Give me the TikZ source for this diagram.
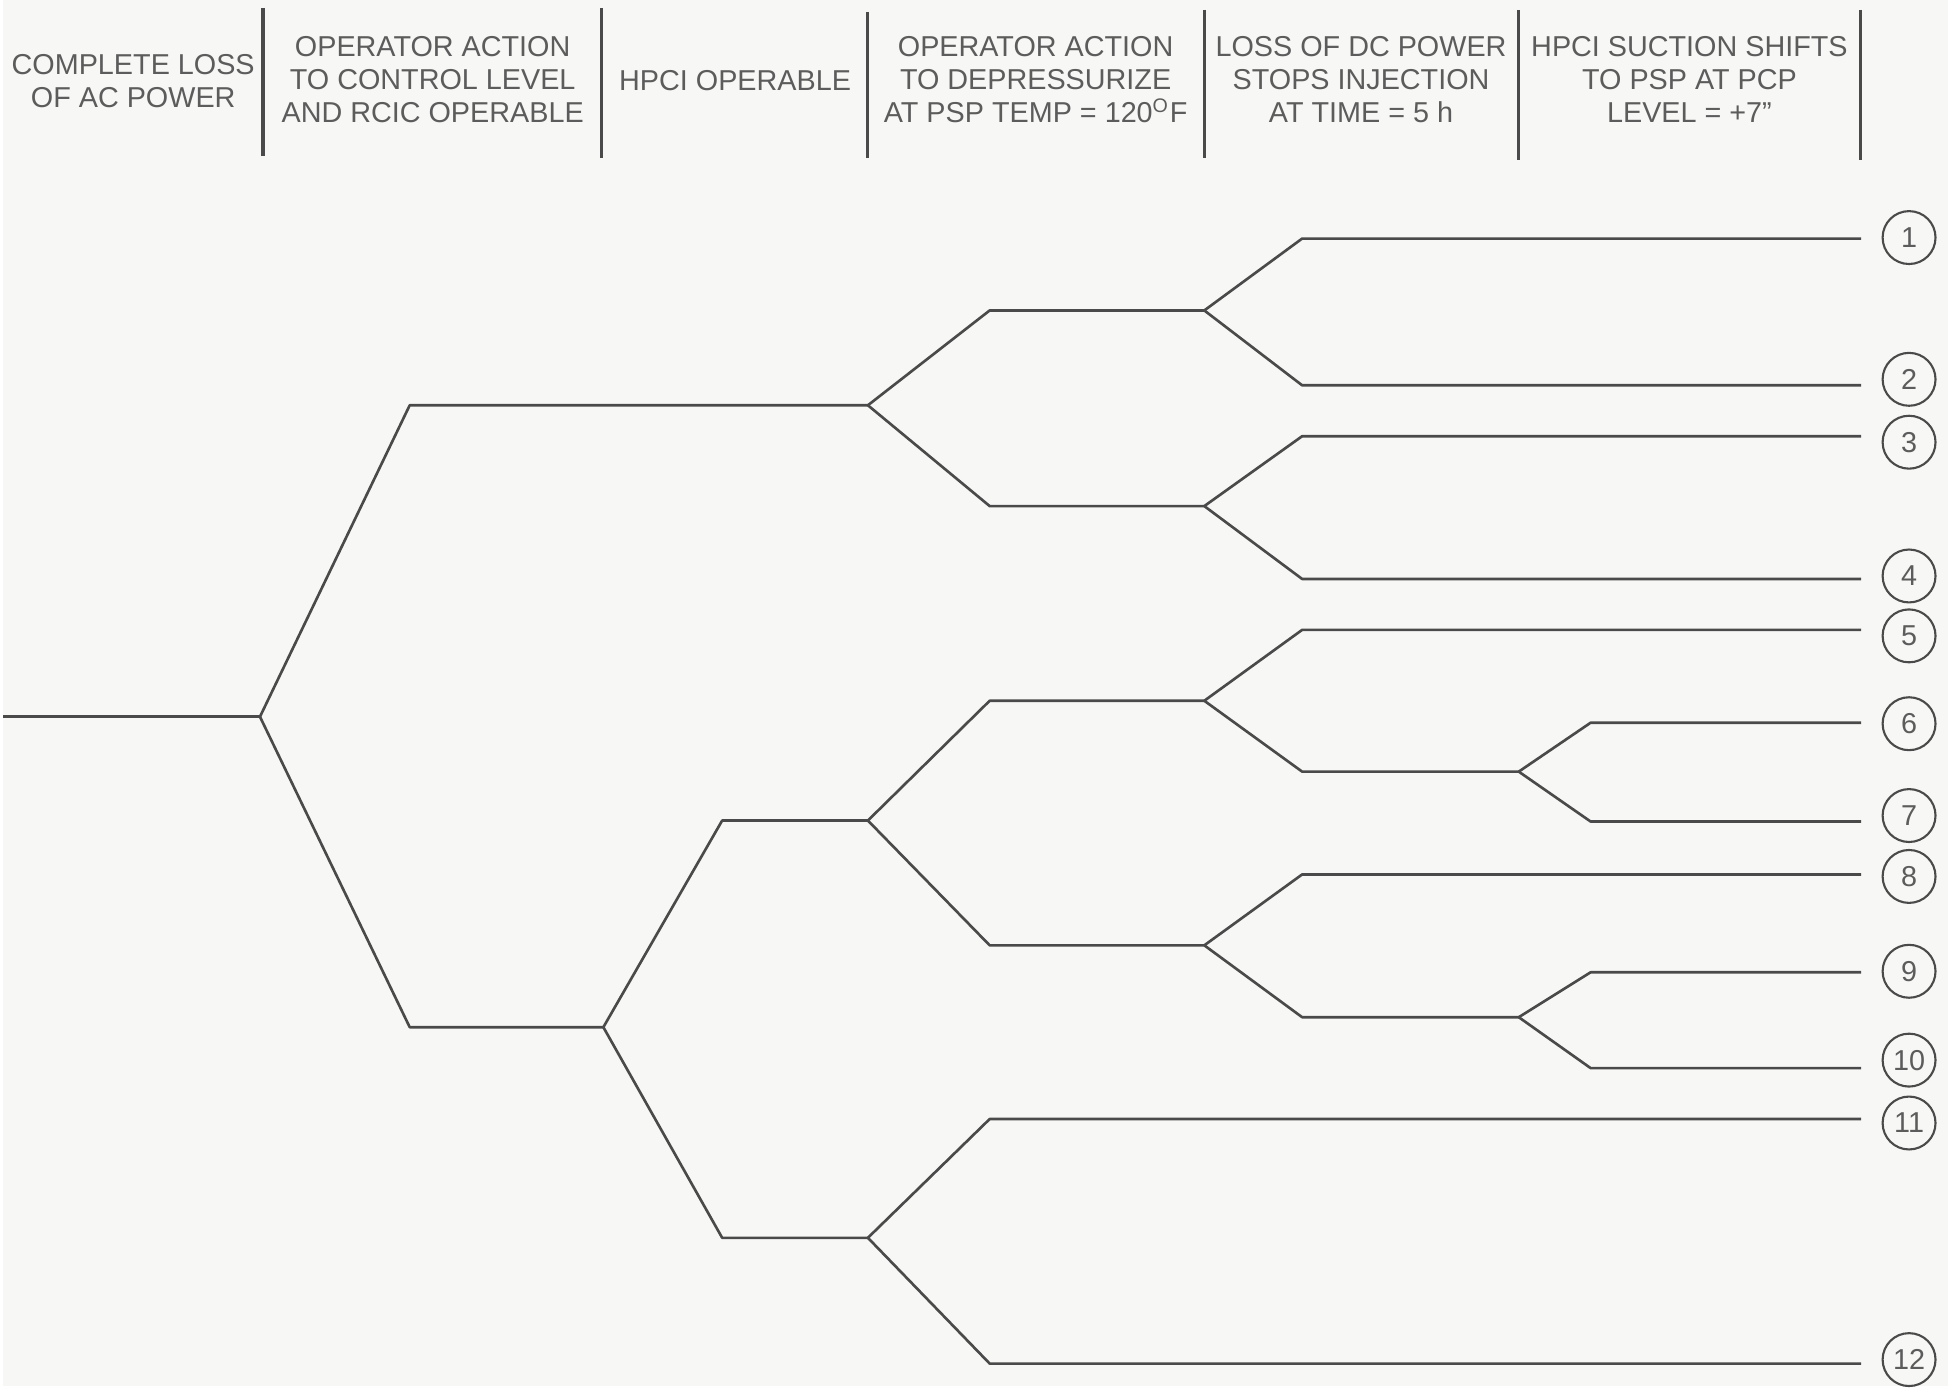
\documentclass[tikz,border=0pt]{standalone}
\usepackage{fontspec}
\setmainfont{Liberation Sans}
\usepackage{tikz}
\definecolor{ink}{RGB}{74,74,74}
\definecolor{print}{RGB}{92,92,92}
\definecolor{paper}{RGB}{247,247,245}

\begin{document}
\begin{tikzpicture}[x=0.1mm, y=-0.1mm,
  br/.style={draw=ink, line width=0.75pt, line join=round},
  sep/.style={draw=ink, line width=0.9pt},
  hd/.style={align=center, text=print, font=\fontsize{8.2}{9.4}\selectfont},
  seq/.style={circle, draw=ink, line width=0.6pt, minimum size=5.3mm,
    inner sep=0pt, text=print, font=\fontsize{8.2}{9.4}\selectfont}]
  \fill[paper] (0,0) rectangle (1948,1388);
  % headings
  \node[hd] (h1) at (130,81) {COMPLETE LOSS\\OF AC POWER};
  \node[hd] (h2) at (430,80) {OPERATOR ACTION\\TO CONTROL LEVEL\\AND RCIC OPERABLE};
  \node[hd] (h3) at (733,81) {HPCI OPERABLE};
  \node[hd] (h4) at (1034,80) {OPERATOR ACTION\\TO DEPRESSURIZE\\AT PSP TEMP = 120\textsuperscript{\fontsize{5.6}{6}\selectfont O}F};
  \node[hd] (h5) at (1360,80) {LOSS OF DC POWER\\STOPS INJECTION\\AT TIME = 5 h};
  \node[hd] (h6) at (1689,80) {HPCI SUCTION SHIFTS\\TO PSP AT PCP\\LEVEL = +7''};
  \draw[sep] (260,8) -- (260,156);
  \draw[sep] (599,8) -- (599,158);
  \draw[sep] (866,12) -- (866,158);
  \draw[sep] (1203,10) -- (1203,158);
  \draw[sep] (1518,10) -- (1518,160);
  \draw[sep] (1860,10) -- (1860,160);
  % columns of the kinks
  \coordinate (k2) at (407,0);
  \coordinate (k3) at (720,0);
  \coordinate (k4) at (988,0);
  \coordinate (k5) at (1301,0);
  \coordinate (k6) at (1590,0);
  % branch points
  \coordinate (start) at (0,718);
  \coordinate (rc) at (257,718);
  \coordinate (dpA) at (866,406);
  \coordinate (hp) at (601,1029);
  \coordinate (dcA) at (1203,311);
  \coordinate (dcB) at (1203,507);
  \coordinate (dpB) at (866,822);
  \coordinate (dpC) at (866,1240);
  \coordinate (dcC) at (1203,702);
  \coordinate (dcD) at (1203,947);
  \coordinate (sxA) at (1518,773);
  \coordinate (sxB) at (1518,1019);
  % sequence ends
  \coordinate (e1) at (1861,239);
  \coordinate (e2) at (1861,386);
  \coordinate (e3) at (1861,437);
  \coordinate (e4) at (1861,580);
  \coordinate (e5) at (1861,631);
  \coordinate (e6) at (1861,724);
  \coordinate (e7) at (1861,823);
  \coordinate (e8) at (1861,876);
  \coordinate (e9) at (1861,974);
  \coordinate (e10) at (1861,1070);
  \coordinate (e11) at (1861,1121);
  \coordinate (e12) at (1861,1366);
  \draw[br] (start) -- (rc);
  \draw[br] (rc) -- (dpA -| k2) -- (dpA);
  \draw[br] (rc) -- (hp -| k2) -- (hp);
  \draw[br] (dpA) -- (dcA -| k4) -- (dcA);
  \draw[br] (dpA) -- (dcB -| k4) -- (dcB);
  \draw[br] (dcA) -- (e1 -| k5) -- (e1);
  \draw[br] (dcA) -- (e2 -| k5) -- (e2);
  \draw[br] (dcB) -- (e3 -| k5) -- (e3);
  \draw[br] (dcB) -- (e4 -| k5) -- (e4);
  \draw[br] (hp) -- (dpB -| k3) -- (dpB);
  \draw[br] (hp) -- (dpC -| k3) -- (dpC);
  \draw[br] (dpB) -- (dcC -| k4) -- (dcC);
  \draw[br] (dpB) -- (dcD -| k4) -- (dcD);
  \draw[br] (dcC) -- (e5 -| k5) -- (e5);
  \draw[br] (dcC) -- (sxA -| k5) -- (sxA);
  \draw[br] (sxA) -- (e6 -| k6) -- (e6);
  \draw[br] (sxA) -- (e7 -| k6) -- (e7);
  \draw[br] (dcD) -- (e8 -| k5) -- (e8);
  \draw[br] (dcD) -- (sxB -| k5) -- (sxB);
  \draw[br] (sxB) -- (e9 -| k6) -- (e9);
  \draw[br] (sxB) -- (e10 -| k6) -- (e10);
  \draw[br] (dpC) -- (e11 -| k4) -- (e11);
  \draw[br] (dpC) -- (e12 -| k4) -- (e12);
  \node[seq] (n1) at (1909,238) {1};
  \node[seq] (n2) at (1909,380) {2};
  \node[seq] (n3) at (1909,443) {3};
  \node[seq] (n4) at (1909,577) {4};
  \node[seq] (n5) at (1909,637) {5};
  \node[seq] (n6) at (1909,725) {6};
  \node[seq] (n7) at (1909,817) {7};
  \node[seq] (n8) at (1909,878) {8};
  \node[seq] (n9) at (1909,973) {9};
  \node[seq] (n10) at (1909,1062) {10};
  \node[seq] (n11) at (1909,1125) {11};
  \node[seq] (n12) at (1909,1362) {12};
\end{tikzpicture}
\end{document}
